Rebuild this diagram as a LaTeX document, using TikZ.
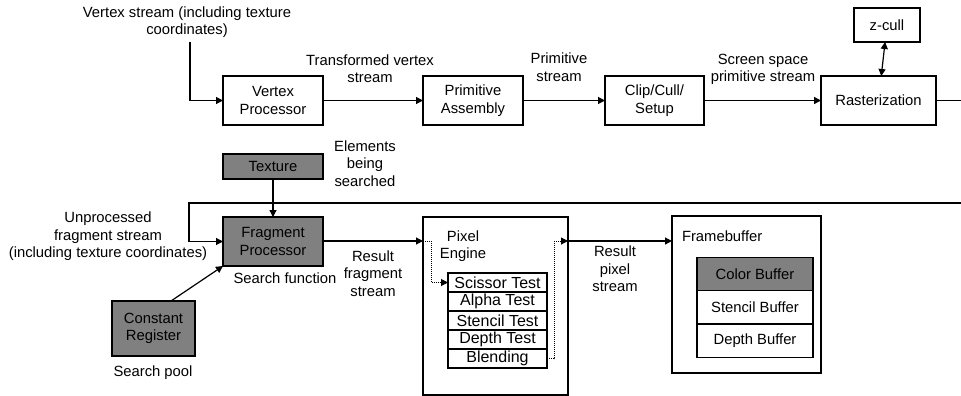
\documentclass[tikz,border=0pt]{standalone}
\usepackage{fontspec}
\setmainfont{Liberation Sans}
\usetikzlibrary{arrows.meta,calc}
\definecolor{boxgray}{RGB}{128,128,128}
\begin{document}
\begin{tikzpicture}[x=1pt,y=-1pt,
  font=\fontsize{14.8}{17.5}\selectfont,
  every node/.style={inner sep=0pt,outer sep=0pt},
  stage/.style={draw,line width=1.2pt,align=center,minimum width=100pt,minimum height=49pt},
  shaded/.style={fill=boxgray},
  cell/.style={draw,line width=1.2pt,minimum width=99pt,minimum height=19pt,font=\fontsize{16}{18}\selectfont},
  bufcell/.style={draw,line width=1.2pt,minimum width=116pt,minimum height=33.3pt},
  lbl/.style={align=center},
  flow/.style={line width=1.2pt,-{Triangle[length=7pt,width=7pt]}},
  flowdot/.style={line width=1pt,densely dotted,-{Triangle[length=7pt,width=7pt]}},
  both/.style={line width=1.2pt,{Triangle[length=7pt,width=7pt]}-{Triangle[length=7pt,width=7pt]}},
  plain/.style={line width=1.2pt}]
\useasboundingbox (0,0) rectangle (961,396);

% ---- geometry pipeline ----
\node[stage] (vp) at (273,100.5) {Vertex\\Processor};
\node[stage] (pa) at (473,100.5) {Primitive\\Assembly};
\node[stage,minimum width=99pt] (ccs) at (654.5,100.5) {Clip/Cull/\\Setup};
\node[stage,minimum width=115pt] (ras) at (878.5,100.5) {Rasterization};
\node[stage,minimum width=66pt,minimum height=34pt] (zc) at (887,25) {z-cull};

\node[lbl] (vstxt) at (187,22) {Vertex stream (including texture\\coordinates)};
\node[lbl] (tvs) at (370,68.5) {Transformed vertex\\stream};
\node[lbl] (ps) at (559,67) {Primitive\\stream};
\node[lbl] (ssps) at (763,69.5) {Screen space\\primitive stream};

\coordinate (vsin) at (190,42);
\draw[flow] (vsin) |- (vp.west);
\draw[flow] (vp) -- (pa);
\draw[flow] (pa) -- (ccs);
\draw[flow] (ccs) -- (ras);
\draw[both] (zc) -- (ras);
\coordinate (rasout) at (961,100.5);
\draw[plain] (ras) -- (rasout);

% ---- fragment stage ----
\node[stage,shaded,minimum height=25pt] (tex) at (273,166.5) {Texture};
\node[stage,shaded] (fp) at (273,241.5) {Fragment\\Processor};
\node[stage,shaded,minimum width=83pt,minimum height=55pt] (cr) at (153.5,328.5) {Constant\\Register};

\node[lbl] (ebs) at (365,163.5) {Elements\\being\\searched};
\node[lbl] (ufs) at (108,236.5) {Unprocessed\\fragment stream\\(including texture coordinates)};
\node[lbl] (sf) at (285,278) {Search function};
\node[lbl] (sp) at (153,373) {Search pool};
\node[lbl] (rfs) at (373,273.5) {Result\\fragment\\stream};

\coordinate (loopin) at (961,203);
\coordinate (loopcorner) at (189,203);
\draw[flow] (loopin) -- (loopcorner) |- (fp.west);
\draw[flow] (tex) -- (fp);
\coordinate (crtop) at (171,301);
\draw[flow] (crtop) -- (fp.south west);

% ---- pixel engine ----
\node[draw,line width=1.2pt,minimum width=145pt,minimum height=178pt] (pe) at (495.5,306) {};
\node[lbl] (petxt) at (463,246) {Pixel\\Engine};
\node[cell] (t1) at (497.5,282.5) {Scissor Test};
\node[cell] (t2) at (497.5,301.5) {Alpha Test};
\node[cell] (t3) at (497.5,320.5) {Stencil Test};
\node[cell] (t4) at (497.5,339.5) {Depth Test};
\node[cell] (t5) at (497.5,358.5) {Blending};

\coordinate (pein) at (423,241);
\coordinate (pedown) at (431,241);
\coordinate (peup) at (554,358.5);
\coordinate (peout) at (568,241);
\draw[flow] (fp.east |- pein) -- (pein);
\draw[flowdot] (pein) -- (pedown) |- (t1.west);
\draw[flowdot] (t5.east) -- (peup) |- (peout);

% ---- framebuffer ----
\node[draw,line width=1.2pt,minimum width=149pt,minimum height=157pt] (fb) at (746.5,294.5) {};
\node[anchor=west] (fbtxt) at (682,236) {Framebuffer};
\node[bufcell,shaded] (cb) at (755,274) {Color Buffer};
\node[bufcell] (sb) at (755,307.5) {Stencil Buffer};
\node[bufcell] (db) at (755,340.5) {Depth Buffer};
\node[lbl] (rps) at (615,269) {Result\\pixel\\stream};

\draw[flow] (peout) -- (fb.west |- peout);
\end{tikzpicture}
\end{document}
